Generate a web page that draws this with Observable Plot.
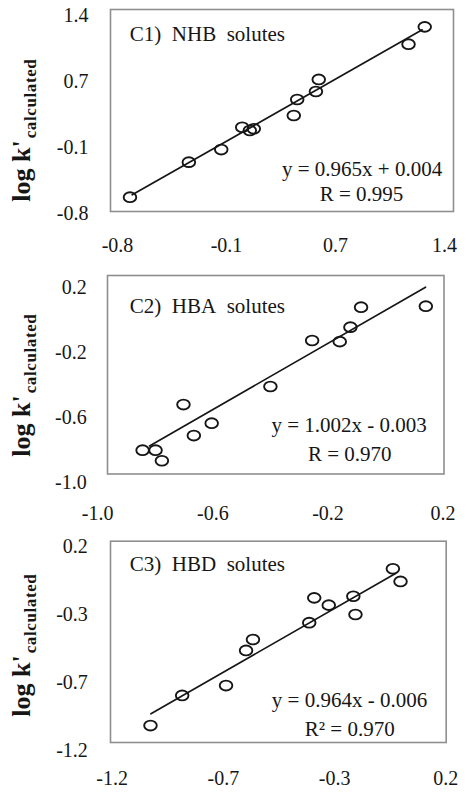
<!DOCTYPE html>
<html>
<head>
<meta charset="utf-8">
<script src="https://cdn.jsdelivr.net/npm/d3@7"></script>
<script src="https://cdn.jsdelivr.net/npm/@observablehq/plot@0.6"></script>
<style>
  body { margin: 0; background: #fff; }
  #chart { width: 470px; }
  #chart svg { display: block; }
  #chart svg, #chart svg text, #chart svg tspan {
    font-family: "Liberation Serif", "Times New Roman", "DejaVu Serif", serif !important;
  }
</style>
</head>
<body>
<div id="chart"></div>
<script>
// ---------------- DATA ----------------
// Panel C1 — NHB solutes
const c1X = [-0.716, -0.320, -0.102, 0.039, 0.090, 0.117, 0.386, 0.409, 0.535, 0.554, 1.158, 1.267];
const c1Y = [-0.616, -0.228, -0.088, 0.159, 0.123, 0.142, 0.289, 0.466, 0.555, 0.688, 1.079, 1.271];
const c1FitX = [-0.701, 1.250];
const c1FitY = [-0.590, 1.238];
const c1Ticks = [-0.8, -0.0667, 0.6667, 1.4];
const c1TickLabels = ["-0.8", "-0.1", "0.7", "1.4"];
const c1Title = "C1)\u00a0 NHB\u00a0 solutes";
const c1Equation = "y = 0.965x + 0.004";
const c1Stat = "R = 0.995";

// Panel C2 — HBA solutes
const c2X = [-0.844, -0.799, -0.777, -0.702, -0.666, -0.604, -0.400, -0.255, -0.159, -0.122, -0.085, 0.140];
const c2Y = [-0.803, -0.803, -0.868, -0.522, -0.713, -0.637, -0.411, -0.128, -0.135, -0.046, 0.077, 0.083];
const c2FitX = [-0.820, 0.139];
const c2FitY = [-0.777, 0.200];
const c2Ticks = [-1.0, -0.6, -0.2, 0.2];
const c2TickLabels = ["-1.0", "-0.6", "-0.2", "0.2"];
const c2Title = "C2)\u00a0 HBA\u00a0 solutes";
const c2Equation = "y = 1.002x - 0.003";
const c2Stat = "R = 0.970";

// Panel C3 — HBD solutes
const c3X = [-1.039, -0.906, -0.722, -0.638, -0.609, -0.373, -0.352, -0.291, -0.188, -0.179, -0.022, 0.010];
const c3Y = [-1.026, -0.820, -0.752, -0.512, -0.437, -0.322, -0.152, -0.202, -0.141, -0.266, 0.047, -0.040];
const c3FitX = [-1.037, -0.011];
const c3FitY = [-0.945, 0.015];
const c3Ticks = [-1.2, -0.7333, -0.2667, 0.2];
const c3TickLabels = ["-1.2", "-0.7", "-0.3", "0.2"];
const c3Title = "C3)\u00a0 HBD\u00a0 solutes";
const c3Equation = "y = 0.964x - 0.006";
const c3Stat = "R\u00b2 = 0.970";

const yTitleMain = "log k'";
const yTitleSub = "calculated";

// ---------------- LAYOUT (positions / styles) ----------------
const FONT = "'Liberation Serif', 'Times New Roman', 'DejaVu Serif', serif";
const INK = "#161616";
const layouts = [
  {height: 266, ml: 117, mr: 26, mt: 14.7, mb: 52.7,
   inset: {insetLeft: -7, insetRight: -9, insetTop: -5.7, insetBottom: 2.3},
   xPad: 24, yPad: 29, title: [12.3, 18.6], eq: [324.7, 153.6], stat: [244, 178.6], yTitle: [30, 201.7]},
  {height: 266, ml: 97.2, mr: 27.4, mt: 20.7, mb: 50.3,
   inset: {insetLeft: 9.8, insetRight: -0.9, insetTop: -11.7, insetBottom: 8.2},
   xPad: 24, yPad: 11, title: [32.1, 19], eq: [329.1, 138.3], stat: [252, 166.6], yTitle: [30, 190.7]},
  {height: 264, ml: 111.6, mr: 24.7, mt: 13.9, mb: 45.5,
   inset: {insetLeft: -1.6, insetRight: -0.4, insetTop: -5.2, insetBottom: 8.5},
   xPad: 20.2, yPad: 24.3, title: [17.7, 17.4], eq: [315.1, 154.1], stat: [237.6, 182.4], yTitle: [30, 184.7]}
];

const panels = [
  {x: c1X, y: c1Y, fx: c1FitX, fy: c1FitY, ticks: c1Ticks, labels: c1TickLabels, title: c1Title, eq: c1Equation, stat: c1Stat},
  {x: c2X, y: c2Y, fx: c2FitX, fy: c2FitY, ticks: c2Ticks, labels: c2TickLabels, title: c2Title, eq: c2Equation, stat: c2Stat},
  {x: c3X, y: c3Y, fx: c3FitX, fy: c3FitY, ticks: c3Ticks, labels: c3TickLabels, title: c3Title, eq: c3Equation, stat: c3Stat}
];

// open ellipse marker (the reference markers are slightly wider than tall)
const ellipse = {
  draw(ctx) {
    const rx = 6.3, ry = 4.9, k = 0.5523;
    ctx.moveTo(rx, 0);
    ctx.bezierCurveTo(rx, ry * k, rx * k, ry, 0, ry);
    ctx.bezierCurveTo(-rx * k, ry, -rx, ry * k, -rx, 0);
    ctx.bezierCurveTo(-rx, -ry * k, -rx * k, -ry, 0, -ry);
    ctx.bezierCurveTo(rx * k, -ry, rx, -ry * k, rx, 0);
    ctx.closePath();
  }
};

const chart = document.getElementById("chart");

panels.forEach((p, i) => {
  const L = layouts[i];
  const pts = p.x.map((v, j) => ({x: v, y: p.y[j]}));
  const fit = p.fx.map((v, j) => ({x: v, y: p.fy[j]}));
  const domain = [p.ticks[0], p.ticks[p.ticks.length - 1]];
  const fmt = d => p.labels[d3.minIndex(p.ticks, t => Math.abs(t - d))];

  const svg = Plot.plot({
    width: 470,
    height: L.height,
    marginLeft: L.ml, marginRight: L.mr, marginTop: L.mt, marginBottom: L.mb,
    style: {fontFamily: FONT, fontSize: "20px", color: INK, background: "#fff", overflow: "visible"},
    x: {domain, ticks: p.ticks, tickFormat: fmt, tickSize: 0, tickPadding: L.xPad, label: null},
    y: {domain, ticks: p.ticks, tickFormat: fmt, tickSize: 0, tickPadding: L.yPad, label: null},
    marks: [
      Plot.frame({stroke: "#8f8f8f", strokeWidth: 1.6, ...L.inset}),
      Plot.line(fit, {x: "x", y: "y", stroke: INK, strokeWidth: 1.7}),
      Plot.dot(pts, {x: "x", y: "y", symbol: ellipse, stroke: INK, strokeWidth: 1.9, fill: "none"}),
      Plot.text([p.title], {text: d => d, frameAnchor: "top-left", dx: L.title[0], dy: L.title[1],
        textAnchor: "start", lineAnchor: "middle", fontSize: 21, fill: INK}),
      Plot.text([p.eq], {text: d => d, frameAnchor: "top-left", dx: L.eq[0], dy: L.eq[1],
        textAnchor: "end", lineAnchor: "middle", fontSize: 21, fill: INK}),
      Plot.text([p.stat], {text: d => d, frameAnchor: "top-left", dx: L.stat[0], dy: L.stat[1],
        textAnchor: "middle", lineAnchor: "middle", fontSize: 21, fill: INK})
    ]
  });

  // rotated bold y-axis title with subscript
  const t = d3.select(svg).append("text")
    .attr("transform", `translate(${L.yTitle[0]},${L.yTitle[1]}) rotate(-90)`)
    .attr("font-family", FONT)
    .attr("font-weight", "bold")
    .attr("fill", INK)
    .attr("text-anchor", "start");
  t.append("tspan").attr("font-size", 26).text(yTitleMain);
  t.append("tspan").attr("font-size", 17).attr("dx", 2).attr("dy", 6).attr("letter-spacing", 0.6).text(yTitleSub);

  chart.appendChild(svg);
});
</script>
</body>
</html>
